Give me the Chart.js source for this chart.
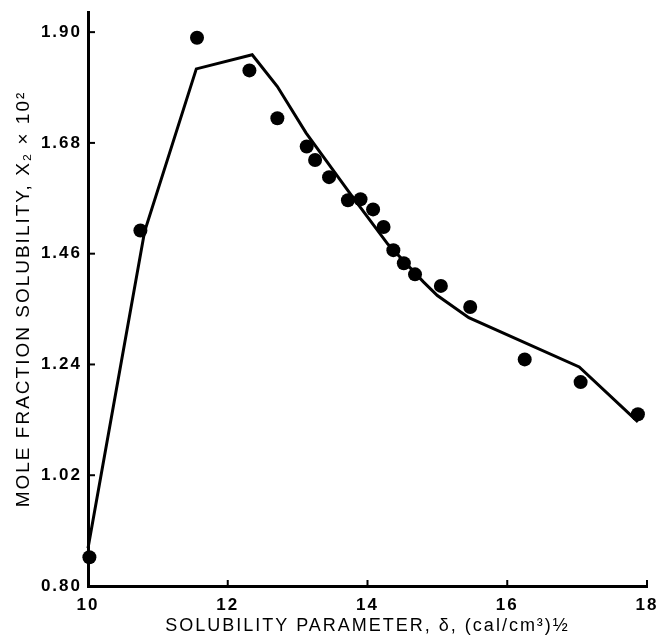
<!DOCTYPE html>
<html>
<head>
<meta charset="utf-8">
<script src="https://cdn.jsdelivr.net/npm/chart.js@4/dist/chart.umd.min.js"></script>
<style>
  html, body { margin: 0; padding: 0; background: #fff; }
  #wrap { width: 659px; height: 637px; position: relative; }
</style>
</head>
<body>
<div id="wrap"><canvas id="c" width="659" height="637"></canvas></div>
<script>
// Measured data points (solubility parameter vs mole fraction solubility x 10^2)
const pointX = [10.02, 10.75, 11.56, 12.31, 12.71, 13.13, 13.25, 13.45, 13.72, 13.90, 14.08, 14.23, 14.37, 14.52, 14.68, 15.05, 15.47, 16.25, 17.05, 17.87];
const pointY = [0.857, 1.506, 1.889, 1.824, 1.729, 1.673, 1.646, 1.612, 1.566, 1.568, 1.548, 1.513, 1.467, 1.441, 1.419, 1.396, 1.354, 1.250, 1.205, 1.141];
// Calculated curve
const curveX = [10.0, 10.81, 11.55, 12.35, 12.71, 13.12, 13.77, 14.29, 14.80, 15.00, 15.45, 17.03, 17.87];
const curveY = [0.875, 1.504, 1.827, 1.855, 1.792, 1.700, 1.576, 1.479, 1.404, 1.377, 1.333, 1.235, 1.126];
// Tick labels
const xTicks = [10, 12, 14, 16, 18];
const yTicks = [0.80, 1.02, 1.24, 1.46, 1.68, 1.90];

const xTitle = 'SOLUBILITY PARAMETER, \u03B4, (cal/cm\u00B3)\u00BD';
const yTitle = 'MOLE FRACTION SOLUBILITY, X\u2082 \u00D7 10\u00B2';

const spacingPlugin = {
  id: 'spacing',
  beforeDraw(chart) { chart.ctx.letterSpacing = '2px'; },
  beforeUpdate(chart) { chart.ctx.letterSpacing = '2px'; }
};

const innerTicks = {
  id: 'innerTicks',
  afterDraw(chart) {
    const ctx = chart.ctx;
    const xs = chart.scales.x, ys = chart.scales.y;
    ctx.save();
    ctx.strokeStyle = '#000';
    ctx.lineWidth = 2;
    xTicks.forEach(v => {
      if (v === xs.min) return;
      const px = xs.getPixelForValue(v);
      ctx.beginPath();
      ctx.moveTo(px, ys.bottom);
      ctx.lineTo(px, ys.bottom - 6);
      ctx.stroke();
    });
    yTicks.forEach(v => {
      if (v === ys.min) return;
      const py = ys.getPixelForValue(v);
      ctx.beginPath();
      ctx.moveTo(xs.left, py);
      ctx.lineTo(xs.left + 7, py);
      ctx.stroke();
    });
    ctx.restore();
  }
};

new Chart(document.getElementById('c'), {
  type: 'scatter',
  data: {
    datasets: [
      {
        type: 'line',
        data: curveX.map((x, i) => ({ x: x, y: curveY[i] })),
        borderColor: '#000',
        borderWidth: 3,
        pointRadius: 0,
        tension: 0,
        fill: false,
        clip: false
      },
      {
        data: pointX.map((x, i) => ({ x: x, y: pointY[i] })),
        backgroundColor: '#000',
        borderColor: '#000',
        pointRadius: 7,
        borderWidth: 0,
        clip: false
      }
    ]
  },
  options: {
    responsive: false,
    animation: false,
    devicePixelRatio: 1,
    layout: { padding: { top: 12, right: 12, left: 0, bottom: 0 } },
    plugins: { legend: { display: false }, tooltip: { enabled: false } },
    scales: {
      x: {
        type: 'linear',
        min: 10, max: 18,
        afterFit(s) { s.height = 51; s.paddingLeft = 0; s.paddingRight = 0; },
        afterBuildTicks(s) { s.ticks = xTicks.map(v => ({ value: v })); },
        grid: { display: false, drawTicks: false },
        border: { display: true, color: '#000', width: 3 },
        ticks: {
          color: '#000',
          padding: 9,
          font: { family: 'Liberation Sans, Arial, sans-serif', size: 17, weight: 'bold' },
          callback: v => String(v)
        },
        title: {
          display: true,
          text: xTitle,
          color: '#000',
          padding: { top: 0, bottom: 0 },
          font: { family: 'Liberation Sans, Arial, sans-serif', size: 18 }
        }
      },
      y: {
        type: 'linear',
        min: 0.80, max: 1.94,
        afterFit(s) { s.width = 88; s.paddingTop = 0; s.paddingBottom = 0; },
        afterBuildTicks(s) { s.ticks = yTicks.map(v => ({ value: v })); },
        grid: { display: false, drawTicks: false },
        border: { display: true, color: '#000', width: 3 },
        ticks: {
          color: '#000',
          padding: 6,
          font: { family: 'Liberation Sans, Arial, sans-serif', size: 17, weight: 'bold' },
          callback: v => Number(v).toFixed(2)
        },
        title: {
          display: true,
          text: yTitle,
          color: '#000',
          padding: { top: 12, bottom: 0 },
          font: { family: 'Liberation Sans, Arial, sans-serif', size: 19 }
        }
      }
    }
  },
  plugins: [spacingPlugin, innerTicks]
});
</script>
</body>
</html>
